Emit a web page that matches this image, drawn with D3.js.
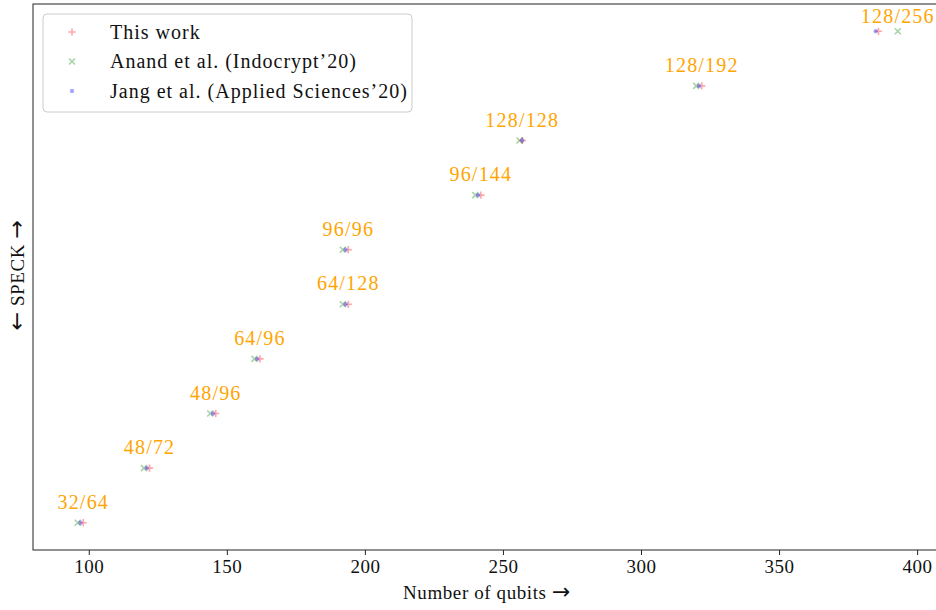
<!DOCTYPE html>
<html><head><meta charset="utf-8">
<script src="https://cdn.jsdelivr.net/npm/d3@7"></script>
<style>body{margin:0;background:#fff}svg{display:block}text{font-family:"Liberation Serif","DejaVu Serif",serif}.arr{font-family:"DejaVu Sans",sans-serif;font-size:22px}</style>
</head><body><svg id="c" width="936" height="610"></svg>
<script>
const categories = ["32/64","48/72","48/96","64/96","64/128","96/96","96/144","128/128","128/192","128/256"];
const thisWork = [98,122,146,162,194,194,242,257,322,386];
const anand    = [96,120,144,160,192,192,240,256,320,393];
const jang     = [97,121,145,161,193,193,241,257,321,385];
const xTicks = [100,150,200,250,300,350,400];
const seriesNames = ["This work","Anand et al. (Indocrypt\u201920)","Jang et al. (Applied Sciences\u201920)"];

const svg = d3.select("#c");
const L=33, R=937, T=4, B=550;
const x = d3.scaleLinear().domain([79.8, 407.2]).range([L, R]);
const y = d3.scaleLinear().domain([-0.5, 9.5]).range([B, T]);

svg.append("rect").attr("x",L).attr("y",T).attr("width",R-L).attr("height",B-T)
  .attr("fill","none").attr("stroke","#222").attr("stroke-width",1);

const xa = svg.append("g").attr("transform",`translate(0,${B})`)
  .call(d3.axisBottom(x).tickValues(xTicks).tickSize(5).tickPadding(5).tickFormat(d3.format("d")));
xa.select(".domain").remove();
xa.selectAll("line").attr("stroke","#222");
xa.selectAll("text").attr("font-size","19px").attr("fill","#111").attr("letter-spacing","0.5px");

const xt = svg.append("text").attr("x",487).attr("y",599).attr("text-anchor","middle")
  .attr("font-size","19px").attr("fill","#111").attr("letter-spacing","0.6px");
xt.append("tspan").text("Number of qubits ");
xt.append("tspan").attr("class","arr").text("\u2192");
const yt = svg.append("text").attr("transform","translate(24,275) rotate(-90)").attr("text-anchor","middle")
  .attr("font-size","19px").attr("fill","#111").attr("letter-spacing","0.6px");
yt.append("tspan").attr("class","arr").text("\u2190");
yt.append("tspan").text(" SPECK ");
yt.append("tspan").attr("class","arr").text("\u2192");

function plus(g,cx,cy,s,col){g.append("path").attr("d",`M${cx-s},${cy}H${cx+s}M${cx},${cy-s}V${cy+s}`).attr("stroke",col).attr("stroke-width",1.6).attr("stroke-opacity",0.35);}
function cross(g,cx,cy,s,col){g.append("path").attr("d",`M${cx-s},${cy-s}L${cx+s},${cy+s}M${cx-s},${cy+s}L${cx+s},${cy-s}`).attr("stroke",col).attr("stroke-width",1.6).attr("stroke-opacity",0.35);}
function dot(g,cx,cy,r,col){g.append("circle").attr("cx",cx).attr("cy",cy).attr("r",r).attr("fill",col).attr("fill-opacity",0.35);}

const g = svg.append("g");
categories.forEach((c,i)=>{
  plus(g,x(thisWork[i]),y(i),3.6,"red");
  cross(g,x(anand[i]),y(i),3,"green");
  dot(g,x(jang[i]),y(i),2.2,"blue");
  const mx = Math.max(thisWork[i],anand[i],jang[i]);
  g.append("text").attr("x",x(mx)).attr("y",Math.max(y(i)-14, T+19)).attr("text-anchor","middle")
    .attr("font-size","20px").attr("letter-spacing","1.2px").attr("fill","orange").text(c);
});

const lg = svg.append("g");
lg.append("rect").attr("x",43).attr("y",14).attr("width",369).attr("height",98).attr("rx",4)
  .attr("fill","#fff").attr("fill-opacity",0.8).attr("stroke","#ccc");
const ly=[32,61.5,91];
plus(lg,72,ly[0],3.6,"red"); cross(lg,72,ly[1],3,"green"); dot(lg,72,ly[2],2.2,"blue");
seriesNames.forEach((n,i)=>lg.append("text").attr("x",110).attr("y",ly[i]+6.5).attr("font-size","20px")
  .attr("letter-spacing","1px").attr("fill","#111").text(n));
</script></body></html>
